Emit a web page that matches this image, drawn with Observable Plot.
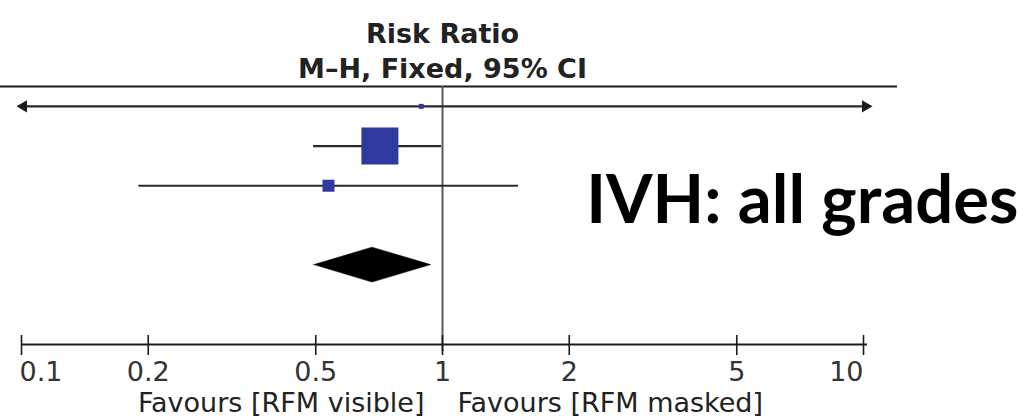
<!DOCTYPE html>
<html>
<head>
<meta charset="utf-8">
<script src="https://cdn.jsdelivr.net/npm/d3@7"></script>
<script src="https://cdn.jsdelivr.net/npm/@observablehq/plot@0.6"></script>
<style>
  html, body { margin: 0; padding: 0; background: #fff; }
  #chart svg { display: block; }
</style>
</head>
<body>
<div id="chart"></div>
<script>
// Forest plot rows: risk ratio with 95% CI and M-H fixed-effect weight (%)
const rows = [1, 2, 3];
const riskRatio = [0.89, 0.71, 0.536];
const ciLower = [0.04, 0.494, 0.19];
const ciUpper = [25, 0.995, 1.515];
const weight = [1.6, 89.0, 9.4];

// Pooled estimate (diamond)
const pooledRow = 5;
const pooledEstimate = 0.682;
const pooledLower = 0.496;
const pooledUpper = 0.94;

// Axis
const axisRow = 7;
const tickValues = [0.1, 0.2, 0.5, 1, 2, 5, 10];
const tickLabels = ["0.1", "0.2", "0.5", "1", "2", "5", "10"];
const headerLines = ["Risk Ratio", "M–H, Fixed, 95% CI"];
const favourLabels = ["Favours [RFM visible]", "Favours [RFM masked]"];
const outcomeLabel = "IVH: all grades";

const xMin = tickValues[0], xMax = tickValues[tickValues.length - 1];
const clamp = v => Math.max(xMin, Math.min(xMax, v));

const studies = rows.map((r, i) => ({
  row: r, rr: riskRatio[i], lo: ciLower[i], hi: ciUpper[i], w: weight[i]
}));

// arrowheads where a CI runs off the scale
const arrows = [];
for (const s of studies) {
  if (s.lo < xMin) arrows.push({x: xMin, row: s.row, rotate: -90});
  if (s.hi > xMax) arrows.push({x: xMax, row: s.row, rotate: 90});
}

const diamondHalf = 0.44;
const diamond = [
  {x: pooledLower, y1: pooledRow, y2: pooledRow},
  {x: pooledEstimate, y1: pooledRow - diamondHalf, y2: pooledRow + diamondHalf},
  {x: pooledUpper, y1: pooledRow, y2: pooledRow}
];

const ticks = tickValues.map((v, i) => ({x: v, label: tickLabels[i]}));
const ink = "#1c1c1c";
const font = "DejaVu Sans";

const chart = Plot.plot({
  width: 1030,
  height: 419,
  marginTop: 0,
  marginLeft: 21,
  marginRight: 167,
  marginBottom: 0,
  style: {fontFamily: font, fontSize: "27px", color: ink, background: "#fff"},
  x: {type: "log", domain: [xMin, xMax], range: [21, 863], axis: null},
  y: {type: "linear", domain: [0.5, axisRow], range: [86, 344], axis: null},
  r: {type: "sqrt", domain: [0, 89], range: [0, 37 / Math.sqrt(Math.PI)]},
  marks: [
    // header rule
    Plot.ruleY([0.5], {stroke: ink, strokeWidth: 2, insetLeft: -21, insetRight: -34}),
    // line of no effect
    Plot.ruleX([1], {y1: 0.5, y2: axisRow, stroke: "#5a5a5a", strokeWidth: 2, insetBottom: -7}),
    // confidence intervals
    Plot.ruleY(studies, {y: "row", x1: d => clamp(d.lo), x2: d => clamp(d.hi), stroke: "#2a2a2a", strokeWidth: 2.2}),
    Plot.dot(arrows, {x: "x", y: "row", symbol: "triangle", rotate: "rotate", r: 4.5, fill: ink, stroke: "none", dx: 2}),
    // study estimates
    Plot.dot(studies, {x: "rr", y: "row", r: "w", symbol: "square", fill: "#2e3a9e", stroke: "none"}),
    // pooled diamond
    Plot.areaY(diamond, {x: "x", y1: "y1", y2: "y2", fill: "#000", stroke: "#000", strokeWidth: 0.5}),
    // axis
    Plot.ruleY([axisRow], {x1: xMin, x2: xMax, stroke: ink, strokeWidth: 2, insetRight: -4}),
    Plot.ruleX(ticks, {x: "x", y1: axisRow, y2: axisRow, insetTop: -9, insetBottom: -11, stroke: ink, strokeWidth: 1.6}),
    Plot.text(ticks.slice(0, 1), {x: "x", y: axisRow, text: "label", textAnchor: "start", lineAnchor: "top", dy: 17, dx: -2, fill: "#333"}),
    Plot.text(ticks.slice(1, -1), {x: "x", y: axisRow, text: "label", textAnchor: "middle", lineAnchor: "top", dy: 17, fill: "#333"}),
    Plot.text(ticks.slice(-1), {x: "x", y: axisRow, text: "label", textAnchor: "end", lineAnchor: "top", dy: 17, fill: "#333"}),
    // favours labels
    Plot.text([favourLabels[0]], {x: 1, y: axisRow, text: d => d, textAnchor: "end", lineAnchor: "top", dy: 48, dx: -18, fill: "#222"}),
    Plot.text([favourLabels[1]], {x: 1, y: axisRow, text: d => d, textAnchor: "start", lineAnchor: "top", dy: 48, dx: 15, fill: "#222"}),
    // header
    Plot.text([headerLines.join("\n")], {x: 1, frameAnchor: "top", text: d => d, textAnchor: "middle", lineAnchor: "top", dy: 17, lineHeight: 1.32, fontWeight: "bold", fill: "#222"}),
    // outcome label
    Plot.text([outcomeLabel], {frameAnchor: "top-right", text: d => d, textAnchor: "end", lineAnchor: "top", dx: 155, dy: 175, fontFamily: "Lato", fontWeight: "bold", fontSize: 67, fill: "#000"})
  ]
});

document.getElementById("chart").appendChild(chart);
</script>
</body>
</html>
